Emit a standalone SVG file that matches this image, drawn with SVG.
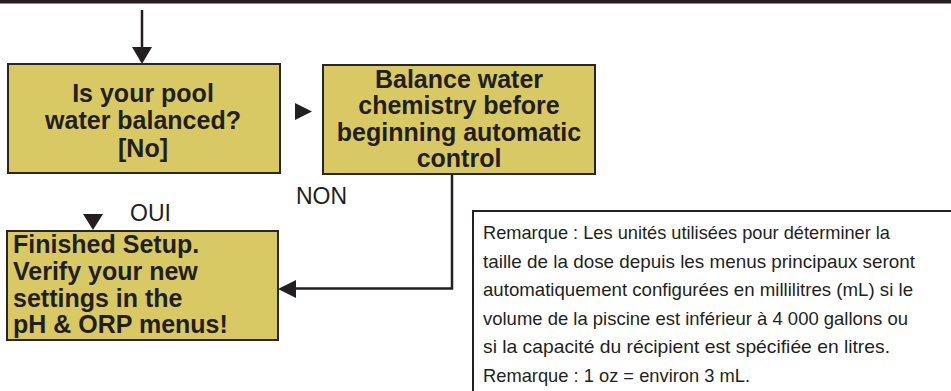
<svg xmlns="http://www.w3.org/2000/svg" width="951" height="391" viewBox="0 0 951 391">
<style>
.box{fill:#d8c964;stroke:#2a2627;stroke-width:2}
.bt{font-family:"Liberation Sans",Arial,sans-serif;font-weight:bold;font-size:25px;fill:#231f20}
.lbl{font-family:"Liberation Sans",Arial,sans-serif;font-size:23px;fill:#231f20}
.note{font-family:"Liberation Sans",Arial,sans-serif;font-size:18.5px;fill:#231f20}
.ln{stroke:#231f20;stroke-width:2.5;fill:none}
.ah{fill:#231f20}
</style>
<rect x="0" y="0" width="951" height="3.5" fill="#231f20"/>
<g id="connectors">
<line class="ln" x1="142" y1="10" x2="142" y2="49"/>
<polygon class="ah" points="132,47 152,47 142,64"/>
<polygon class="ah" points="295,103 312,111.5 295,120"/>
<polyline class="ln" points="452,174 452,288.5 294,288.5"/>
<polygon class="ah" points="278,289 296,280 296,298"/>
<polygon class="ah" points="83,214 103,214 93,230"/>
</g>
<g id="node-balanced">
<rect class="box" x="8" y="64" width="272" height="109"/>
<text class="bt" text-anchor="middle" x="143" y="102">Is your pool</text>
<text class="bt" text-anchor="middle" x="143" y="129">water balanced?</text>
<text class="bt" text-anchor="middle" x="143" y="157">[No]</text>
</g>
<g id="node-balance-chem">
<rect class="box" x="323" y="65" width="272" height="109"/>
<text class="bt" text-anchor="middle" x="459" y="88">Balance water</text>
<text class="bt" text-anchor="middle" x="459" y="114">chemistry before</text>
<text class="bt" text-anchor="middle" x="459" y="141">beginning automatic</text>
<text class="bt" text-anchor="middle" x="459" y="167">control</text>
</g>
<g id="label-non"><text class="lbl" x="296" y="204">NON</text></g>
<g id="label-oui"><text class="lbl" x="130" y="221">OUI</text></g>
<g id="node-finished">
<rect class="box" x="7" y="231" width="271" height="109"/>
<text class="bt" x="13" y="253">Finished Setup.</text>
<text class="bt" x="13" y="280">Verify your new</text>
<text class="bt" x="13" y="307">settings in the</text>
<text class="bt" x="13" y="333">pH &amp; ORP menus!</text>
</g>
<g id="note">
<polyline points="473,391 473,211 951,211" fill="none" stroke="#231f20" stroke-width="2"/>
<text class="note" x="483" y="239" textLength="407" lengthAdjust="spacingAndGlyphs">Remarque : Les unités utilisées pour déterminer la</text>
<text class="note" x="483" y="267.5" textLength="432" lengthAdjust="spacingAndGlyphs">taille de la dose depuis les menus principaux seront</text>
<text class="note" x="483" y="296" textLength="430" lengthAdjust="spacingAndGlyphs">automatiquement configurées en millilitres (mL) si le</text>
<text class="note" x="483" y="324.5" textLength="425" lengthAdjust="spacingAndGlyphs">volume de la piscine est inférieur à 4 000 gallons ou</text>
<text class="note" x="483" y="353" textLength="407" lengthAdjust="spacingAndGlyphs">si la capacité du récipient est spécifiée en litres.</text>
<text class="note" x="483" y="381.5" textLength="267" lengthAdjust="spacingAndGlyphs">Remarque : 1 oz = environ 3 mL.</text>
</g>
</svg>
